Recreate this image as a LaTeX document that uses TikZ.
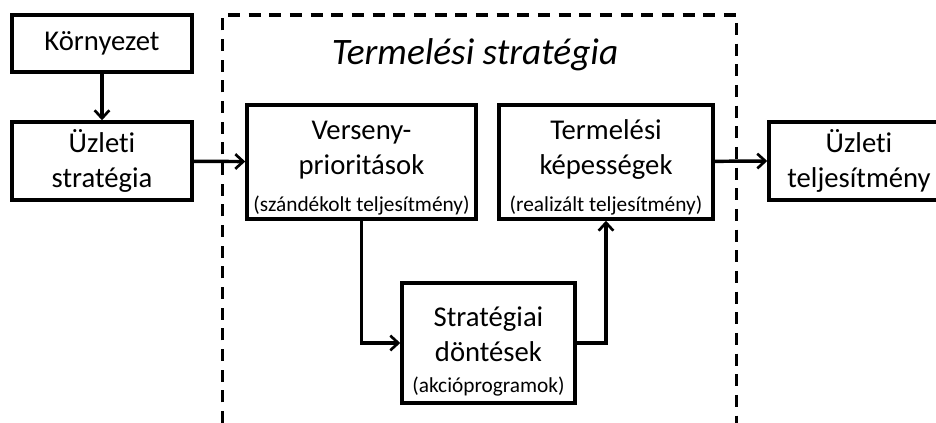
\documentclass[tikz,border=0pt]{standalone}
\usepackage{fontspec}
\setmainfont{Carlito}[Ligatures=NoCommon]
\usetikzlibrary{arrows.meta}
\tikzset{
    box/.style={draw, line width=2.6pt, align=center, inner sep=0pt,
        font=\fontsize{21.5}{26.25}\selectfont},
    conn/.style={line width=2.6pt, -{Straight Barb[length=6pt,width=11pt,line width=2pt]}},
}
\newcommand{\sm}[1]{{\fontsize{16}{20}\selectfont #1}}
\newcommand{\up}[1]{\rule{0pt}{#1}}
\begin{document}
\begin{tikzpicture}[x=0.75pt,y=-0.75pt]
    \clip (0,0) rectangle (936,423);
    \useasboundingbox (0,0) rectangle (936,423);
    % frame
    \draw[line width=2.6pt, dash pattern=on 9pt off 6.5pt] (222.5,423)--(222.5,15)--(736.5,15)--(736.5,423);
    \node[font=\fontsize{28}{32}\selectfont\itshape](title) at (475,55) {Termelési stratégia};
    % boxes
    \node[box, minimum width=135pt, minimum height=42.75pt](korny) at (102,43.5) {Környezet};
    \node[box, minimum width=135pt, minimum height=58.5pt](uzlstrat) at (102,161) {Üzleti\\stratégia};
    \node[box, minimum width=171.75pt, minimum height=85.5pt](verseny) at (361.5,162) {\up{23pt}Verseny-\\prioritások\\[1pt]\sm{(szándékolt teljesítmény)}};
    \node[box, minimum width=160.5pt, minimum height=85.5pt](termkep) at (606,162) {\up{23pt}Termelési\\képességek\\[1pt]\sm{(realizált teljesítmény)}};
    \node[box, minimum width=129.75pt, minimum height=90pt](strat) at (488.5,343) {\up{27pt}Stratégiai\\döntések\\[-3pt]\sm{(akcióprogramok)}};
    \node[box, minimum width=135pt, minimum height=58.5pt](uzlteljes) at (859,161) {Üzleti\\teljesítmény};
    % connectors
    \draw[conn] (korny)--(uzlstrat);
    \draw[conn] (uzlstrat)--(verseny);
    \draw[conn] (verseny.south)|-(strat.west);
    \draw[conn] (strat.east)-|(termkep.south);
    \draw[conn] (termkep)--(uzlteljes.west);
\end{tikzpicture}
\end{document}
